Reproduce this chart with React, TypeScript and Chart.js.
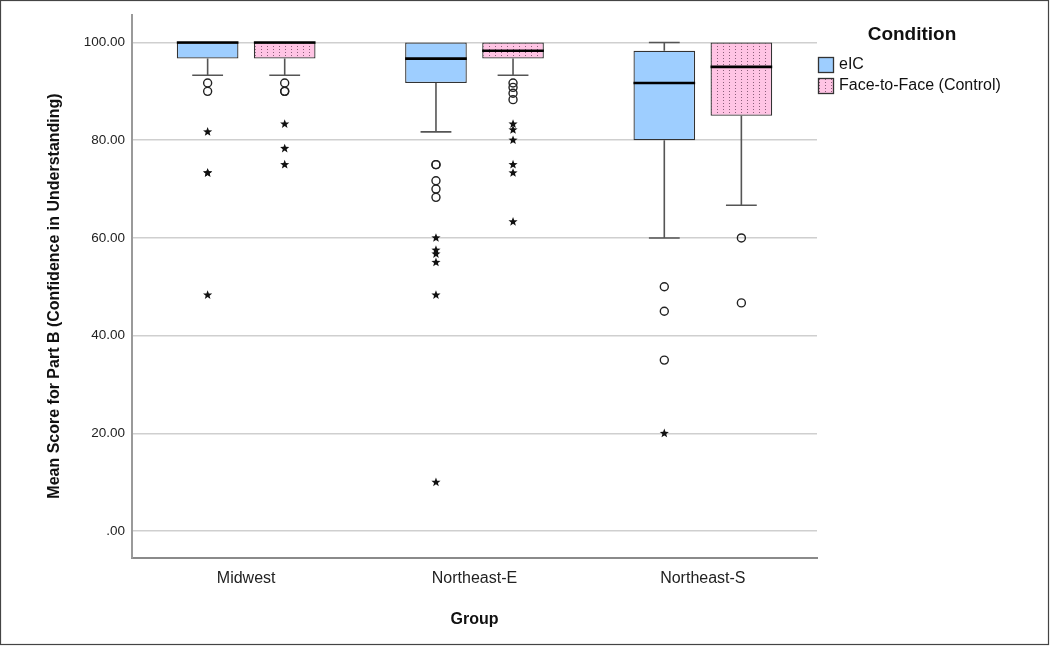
import React, { useEffect, useRef } from 'react';
import { Chart, registerables } from 'chart.js';

Chart.register(...registerables);

// ---- Data ----
const categories = ['Midwest', 'Northeast-E', 'Northeast-S'];
const seriesNames = ['eIC', 'Face-to-Face (Control)'];
const legendTitle = 'Condition';
const yAxisTitle = 'Mean Score for Part B (Confidence in Understanding)';
const xAxisTitle = 'Group';
const yTicks = [0, 20, 40, 60, 80, 100];

const eicQ1 = [96.7, 91.7, 80.0];
const eicQ3 = [100, 100, 98.3];
const eicMedian = [100, 96.7, 91.7];
const eicWhiskerLow = [93.3, 81.7, 60.0];
const eicWhiskerHigh = [100, 100, 100];
const eicCircles = [
  [91.7, 90.0],
  [75.0, 75.0, 71.7, 70.0, 68.3],
  [50.0, 45.0, 35.0],
];
const eicStars = [
  [81.7, 73.3, 73.3, 48.3],
  [60.0, 57.5, 56.7, 55.0, 48.3, 10.0],
  [20.0],
];

const f2fQ1 = [96.7, 96.7, 85.0];
const f2fQ3 = [100, 100, 100];
const f2fMedian = [100, 98.3, 95.0];
const f2fWhiskerLow = [93.3, 93.3, 66.7];
const f2fWhiskerHigh = [100, 100, 100];
const f2fCircles = [
  [91.7, 90.0, 90.0],
  [91.7, 90.8, 89.6, 88.3],
  [60.0, 46.7],
];
const f2fStars = [
  [83.3, 78.3, 75.0],
  [83.3, 82.1, 80.0, 75.0, 73.3, 63.3],
  [],
];

const FONT = '"Liberation Sans", Arial, Helvetica, sans-serif';
const BLUE = '#9ECEFF';
const PINK = '#FFC4E4';

function makePattern(): CanvasPattern | string {
  const c = document.createElement('canvas');
  c.width = 6;
  c.height = 3;
  const g = c.getContext('2d');
  if (!g) return PINK;
  g.fillStyle = PINK;
  g.fillRect(0, 0, 6, 3);
  g.fillStyle = 'rgba(110,70,95,0.8)';
  g.fillRect(3, 1, 1, 1);
  const p = g.createPattern(c, 'repeat');
  return p || PINK;
}

function drawStar(ctx: CanvasRenderingContext2D, x: number, y: number, r: number) {
  ctx.beginPath();
  for (let k = 0; k < 10; k++) {
    const rad = k % 2 === 0 ? r : r * 0.42;
    const a = -Math.PI / 2 + (k * Math.PI) / 5;
    const px = x + rad * Math.cos(a);
    const py = y + rad * Math.sin(a);
    if (k === 0) ctx.moveTo(px, py);
    else ctx.lineTo(px, py);
  }
  ctx.closePath();
  ctx.fill();
}

export default function App() {
  const ref = useRef<HTMLCanvasElement | null>(null);

  useEffect(() => {
    if (!ref.current) return;
    document.body.style.margin = '0';
    const pattern = makePattern();

    const boxInfo = [
      { median: eicMedian, wl: eicWhiskerLow, wh: eicWhiskerHigh, q1: eicQ1, q3: eicQ3, circles: eicCircles, stars: eicStars },
      { median: f2fMedian, wl: f2fWhiskerLow, wh: f2fWhiskerHigh, q1: f2fQ1, q3: f2fQ3, circles: f2fCircles, stars: f2fStars },
    ];
    const fills = [BLUE, pattern];

    const boxPlugin = {
      id: 'boxExtras',
      beforeDraw(chart: any) {
        const ctx = chart.ctx;
        ctx.save();
        ctx.fillStyle = '#ffffff';
        ctx.fillRect(0, 0, chart.width, chart.height);
        ctx.restore();
      },
      beforeDatasetsDraw(chart: any) {
        const ctx = chart.ctx;
        const y = chart.scales.y;
        ctx.save();
        boxInfo.forEach((info, d) => {
          const meta = chart.getDatasetMeta(d);
          meta.data.forEach((bar: any, i: number) => {
            const x = bar.x;
            const w = bar.width;
            ctx.strokeStyle = '#555';
            ctx.lineWidth = 1.6;
            const pq1 = y.getPixelForValue(info.q1[i]);
            const pwl = y.getPixelForValue(info.wl[i]);
            ctx.beginPath();
            ctx.moveTo(x, pq1);
            ctx.lineTo(x, pwl);
            ctx.moveTo(x - w / 4, pwl);
            ctx.lineTo(x + w / 4, pwl);
            ctx.stroke();
            if (info.wh[i] > info.q3[i]) {
              const pq3 = y.getPixelForValue(info.q3[i]);
              const pwh = y.getPixelForValue(info.wh[i]);
              ctx.beginPath();
              ctx.moveTo(x, pq3);
              ctx.lineTo(x, pwh);
              ctx.moveTo(x - w / 4, pwh);
              ctx.lineTo(x + w / 4, pwh);
              ctx.stroke();
            }
          });
        });
        ctx.restore();
      },
      afterDatasetsDraw(chart: any) {
        const ctx = chart.ctx;
        const y = chart.scales.y;
        ctx.save();
        boxInfo.forEach((info, d) => {
          const meta = chart.getDatasetMeta(d);
          meta.data.forEach((bar: any, i: number) => {
            const x = bar.x;
            const w = bar.width;
            const pm = y.getPixelForValue(info.median[i]);
            ctx.strokeStyle = '#000';
            ctx.lineWidth = 2.6;
            ctx.beginPath();
            ctx.moveTo(x - w / 2, pm);
            ctx.lineTo(x + w / 2, pm);
            ctx.stroke();
            ctx.lineWidth = 1.4;
            ctx.strokeStyle = '#222';
            info.circles[i].forEach((v: number) => {
              const py = y.getPixelForValue(v);
              ctx.beginPath();
              ctx.arc(x, py, 4, 0, Math.PI * 2);
              ctx.stroke();
            });
            ctx.fillStyle = '#111';
            info.stars[i].forEach((v: number) => {
              const py = y.getPixelForValue(v);
              drawStar(ctx, x, py, 4.8);
            });
          });
        });
        ctx.restore();
      },
      afterDraw(chart: any) {
        const ctx = chart.ctx;
        ctx.save();
        ctx.fillStyle = '#111';
        ctx.font = `bold 16px ${FONT}`;
        ctx.textAlign = 'center';
        ctx.textBaseline = 'middle';
        ctx.translate(55, 296);
        ctx.rotate(-Math.PI / 2);
        ctx.fillText(yAxisTitle, 0, 0);
        ctx.restore();

        ctx.save();
        ctx.fillStyle = '#111';
        ctx.font = `bold 19px ${FONT}`;
        ctx.textAlign = 'center';
        ctx.textBaseline = 'middle';
        ctx.fillText(legendTitle, 912, 35);
        ctx.font = `16px ${FONT}`;
        ctx.textAlign = 'left';
        seriesNames.forEach((name, k) => {
          const top = 57 + k * 21;
          ctx.fillStyle = fills[k] as any;
          ctx.fillRect(818.5, top + 0.5, 15, 15);
          ctx.strokeStyle = '#333';
          ctx.lineWidth = 1.3;
          ctx.strokeRect(818.5, top + 0.5, 15, 15);
          ctx.fillStyle = '#111';
          ctx.fillText(name, 839, top + 8);
        });
        ctx.restore();

        ctx.save();
        ctx.strokeStyle = '#444';
        ctx.lineWidth = 1.2;
        ctx.strokeRect(0.5, 0.5, chart.width - 2, chart.height - 2);
        ctx.restore();
      },
    };

    const chart = new Chart(ref.current, {
      type: 'bar',
      data: {
        labels: categories,
        datasets: [
          {
            label: seriesNames[0],
            data: categories.map((_, i) => [eicQ1[i], eicQ3[i]]) as any,
            backgroundColor: BLUE,
            borderColor: '#333',
            borderWidth: 1.3,
            borderSkipped: false,
            categoryPercentage: 0.675,
            barPercentage: 0.8,
          },
          {
            label: seriesNames[1],
            data: categories.map((_, i) => [f2fQ1[i], f2fQ3[i]]) as any,
            backgroundColor: pattern as any,
            borderColor: '#333',
            borderWidth: 1.3,
            borderSkipped: false,
            categoryPercentage: 0.675,
            barPercentage: 0.8,
          },
        ],
      },
      options: {
        responsive: false,
        animation: false,
        devicePixelRatio: 1,
        layout: { padding: { top: 15, right: 233, left: 0, bottom: 0 } },
        plugins: {
          legend: { display: false },
          tooltip: { enabled: false },
        },
        scales: {
          x: {
            type: 'category',
            grid: { display: false, drawTicks: false },
            border: { display: true, color: '#8a8a8a', width: 2 },
            ticks: {
              color: '#222',
              font: { family: FONT, size: 16 },
              padding: 11,
            },
            title: {
              display: true,
              text: xAxisTitle,
              color: '#111',
              font: { family: FONT, size: 16, weight: 'bold' },
              padding: { top: 0, bottom: 17 },
            },
            afterFit: (scale: any) => {
              scale.height = 88;
            },
          },
          y: {
            type: 'linear',
            min: -5.5,
            max: 105.6,
            afterBuildTicks: (scale: any) => {
              scale.ticks = yTicks.map((v) => ({ value: v }));
            },
            grid: { color: '#cfcfcf', lineWidth: 1.5, drawTicks: false },
            border: { display: true, color: '#9a9a9a', width: 2 },
            ticks: {
              color: '#222',
              font: { family: FONT, size: 13.5 },
              padding: 7,
              callback: (v: any) => (Number(v) === 0 ? '.00' : Number(v).toFixed(2)),
            },
            title: { display: false },
            afterFit: (scale: any) => {
              scale.width = 132;
            },
          },
        },
      } as any,
      plugins: [boxPlugin],
    });

    return () => {
      chart.destroy();
    };
  }, []);

  return (
    <div style={{ position: 'fixed', left: 0, top: 0, width: 1050, height: 646, background: '#fff' }}>
      <canvas ref={ref} width={1050} height={646} style={{ width: 1050, height: 646, display: 'block' }} />
    </div>
  );
}
